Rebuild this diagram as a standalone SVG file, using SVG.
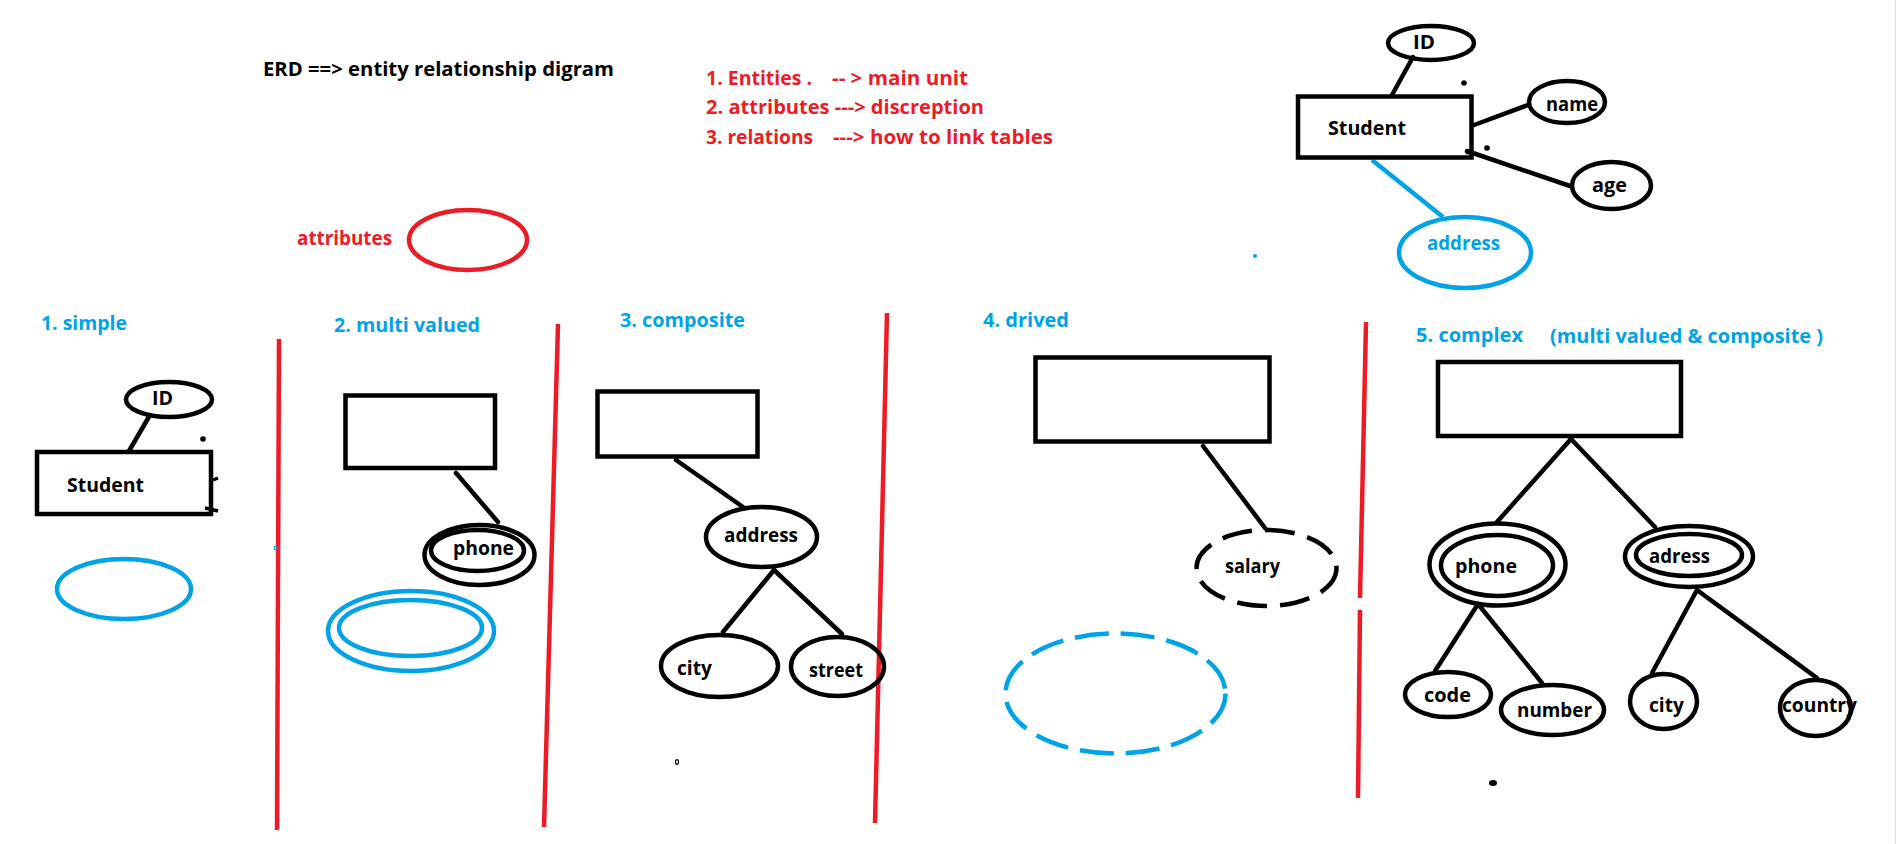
<svg xmlns="http://www.w3.org/2000/svg" width="1896" height="844" viewBox="0 0 1896 844">
<style>
text{font-family:"Open Sans","Liberation Sans",sans-serif;font-weight:700;font-size:20px;}
.k{fill:#000;}
.r{fill:#ed1c24;}
.b{fill:#00a2e8;}
.ent{fill:none;stroke:#000;stroke-width:4.5;}
.att{fill:none;stroke:#000;stroke-width:4.5;}
.batt{fill:none;stroke:#00a2e8;stroke-width:4.5;}
.ratt{fill:none;stroke:#ed1c24;stroke-width:4.5;}
.dash{stroke-dasharray:30 13;}
.bdash{stroke-dasharray:34 12;}
.ln{stroke:#000;stroke-width:4.5;fill:none;stroke-linecap:round;}
.bln{stroke:#00a2e8;stroke-width:4.5;fill:none;}
.sep{stroke:#ed1c24;stroke-width:4.5;fill:none;}
.dot{fill:#000;}
</style>
<rect x="0" y="0" width="1896" height="844" fill="#fff"/>
<line x1="1895.5" y1="0" x2="1895.5" y2="844" stroke="#dcdcdc" stroke-width="1"/>

<g id="titles">
<text class="k" x="263" y="76" textLength="351" lengthAdjust="spacingAndGlyphs">ERD ==&gt; entity relationship digram</text>
<text class="r" y="85"><tspan x="706" textLength="106" lengthAdjust="spacingAndGlyphs">1. Entities .</tspan><tspan x="832" textLength="136" lengthAdjust="spacingAndGlyphs">-- &gt; main unit</tspan></text>
<text class="r" x="706" y="114" textLength="278" lengthAdjust="spacingAndGlyphs">2. attributes ---&gt; discreption</text>
<text class="r" y="144"><tspan x="706" textLength="107" lengthAdjust="spacingAndGlyphs">3. relations</tspan><tspan x="833" textLength="220" lengthAdjust="spacingAndGlyphs">---&gt; how to link tables</tspan></text>
<text class="r" x="297" y="245" textLength="95" lengthAdjust="spacingAndGlyphs">attributes</text>
<text class="b" x="41" y="330" textLength="86" lengthAdjust="spacingAndGlyphs">1. simple</text>
<text class="b" x="334" y="332" textLength="146" lengthAdjust="spacingAndGlyphs">2. multi valued</text>
<text class="b" x="620" y="327" textLength="125" lengthAdjust="spacingAndGlyphs">3. composite</text>
<text class="b" x="983" y="327" textLength="86" lengthAdjust="spacingAndGlyphs">4. drived</text>
<text class="b" x="1416" y="342" textLength="107" lengthAdjust="spacingAndGlyphs">5. complex</text>
<text class="b" x="1550" y="343" textLength="273" lengthAdjust="spacingAndGlyphs">(multi valued &amp; composite )</text>
</g>

<g id="separators">
<line class="sep" x1="279" y1="339" x2="277" y2="830"/>
<line class="sep" x1="558" y1="324" x2="544" y2="827"/>
<line class="sep" x1="887" y1="313" x2="875" y2="823"/>
<line class="sep" x1="1366" y1="322" x2="1360" y2="598"/>
<line class="sep" x1="1360" y1="610" x2="1358" y2="798"/>
</g>

<g id="connectors">
<line class="ln" x1="1413" y1="57" x2="1392" y2="95"/>
<line class="ln" x1="1474" y1="125" x2="1528" y2="105"/>
<line class="ln" x1="1467" y1="151" x2="1570" y2="186"/>
<line class="bln" x1="1372" y1="160" x2="1443" y2="217"/>
<line class="ln" x1="150" y1="415" x2="129" y2="451"/>
<line class="ln" x1="456" y1="473" x2="498" y2="522"/>
<line class="ln" x1="676" y1="460" x2="743" y2="507"/>
<line class="ln" x1="774" y1="570" x2="723" y2="632"/>
<line class="ln" x1="774" y1="570" x2="842" y2="634"/>
<line class="ln" x1="1203" y1="446" x2="1265" y2="528"/>
<line class="ln" x1="1571" y1="439" x2="1497" y2="522"/>
<line class="ln" x1="1571" y1="439" x2="1655" y2="527"/>
<line class="ln" x1="1478" y1="604" x2="1435" y2="671"/>
<line class="ln" x1="1478" y1="604" x2="1542" y2="683"/>
<line class="ln" x1="1697" y1="590" x2="1652" y2="673"/>
<line class="ln" x1="1697" y1="590" x2="1817" y2="678"/>
</g>

<g id="legend-attribute">
<ellipse class="ratt" cx="468" cy="240" rx="59" ry="30"/>
</g>

<g id="top-student">
<rect class="ent" x="1298" y="96.5" width="173.5" height="61"/>
<text class="k" x="1328" y="135" textLength="78" lengthAdjust="spacingAndGlyphs">Student</text>
</g>
<g id="top-id">
<ellipse class="att" cx="1431" cy="43" rx="43" ry="17"/>
<text class="k" x="1413" y="49" textLength="22" lengthAdjust="spacingAndGlyphs">ID</text>
</g>
<g id="top-name">
<ellipse class="att" cx="1567" cy="102" rx="38" ry="21"/>
<text class="k" x="1546" y="111" textLength="52" lengthAdjust="spacingAndGlyphs">name</text>
</g>
<g id="top-age">
<ellipse class="att" cx="1611.5" cy="185.5" rx="39.5" ry="23.5"/>
<text class="k" x="1592" y="192" textLength="35" lengthAdjust="spacingAndGlyphs">age</text>
</g>
<g id="top-address">
<ellipse class="batt" cx="1465" cy="252.5" rx="66" ry="35.5"/>
<text class="b" x="1427" y="250" textLength="73" lengthAdjust="spacingAndGlyphs">address</text>
</g>

<g id="s1-student">
<rect class="ent" x="37" y="452" width="174" height="62"/>
<text class="k" x="67" y="492" textLength="77" lengthAdjust="spacingAndGlyphs">Student</text>
</g>
<g id="s1-id">
<ellipse class="att" cx="169" cy="399.5" rx="43" ry="17.5"/>
<text class="k" x="152" y="405" textLength="21" lengthAdjust="spacingAndGlyphs">ID</text>
</g>
<g id="s1-simple">
<ellipse class="batt" cx="124" cy="589" rx="67" ry="30"/>
</g>

<g id="s2-entity">
<rect class="ent" x="345.5" y="395.5" width="149.5" height="72.5"/>
</g>
<g id="s2-phone">
<ellipse class="att" cx="479.5" cy="555" rx="55" ry="30"/>
<ellipse class="att" cx="477.5" cy="550.5" rx="46.5" ry="20.5"/>
<text class="k" x="453" y="555" textLength="61" lengthAdjust="spacingAndGlyphs">phone</text>
</g>
<g id="s2-multi">
<ellipse class="batt" cx="411" cy="631" rx="83" ry="40"/>
<ellipse class="batt" cx="410.5" cy="628" rx="71.5" ry="28"/>
</g>

<g id="s3-entity">
<rect class="ent" x="597.5" y="391.5" width="160" height="65"/>
</g>
<g id="s3-address">
<ellipse class="att" cx="761.5" cy="537" rx="55.5" ry="30"/>
<text class="k" x="724" y="542" textLength="74" lengthAdjust="spacingAndGlyphs">address</text>
</g>
<g id="s3-city">
<ellipse class="att" cx="719.5" cy="666" rx="58.5" ry="31"/>
<text class="k" x="677" y="675" textLength="35" lengthAdjust="spacingAndGlyphs">city</text>
</g>
<g id="s3-street">
<ellipse class="att" cx="837.5" cy="666.5" rx="46.5" ry="29.5"/>
<text class="k" x="809" y="677" textLength="54" lengthAdjust="spacingAndGlyphs">street</text>
</g>

<g id="s4-entity">
<rect class="ent" x="1035.5" y="357.5" width="234" height="84"/>
</g>
<g id="s4-salary">
<ellipse class="att dash" cx="1266.5" cy="568" rx="70" ry="38"/>
<text class="k" x="1225" y="573" textLength="55" lengthAdjust="spacingAndGlyphs">salary</text>
</g>
<g id="s4-derived">
<ellipse class="batt bdash" cx="1115.5" cy="693.5" rx="110" ry="60"/>
</g>

<g id="s5-entity">
<rect class="ent" x="1438" y="362" width="243" height="74"/>
</g>
<g id="s5-phone">
<ellipse class="att" cx="1497.5" cy="564.5" rx="68" ry="41"/>
<ellipse class="att" cx="1497" cy="565.5" rx="56" ry="30.5"/>
<text class="k" x="1455" y="573" textLength="62" lengthAdjust="spacingAndGlyphs">phone</text>
</g>
<g id="s5-adress">
<ellipse class="att" cx="1689" cy="556.5" rx="64" ry="30.5"/>
<ellipse class="att" cx="1689" cy="555" rx="53" ry="21"/>
<text class="k" x="1649" y="563" textLength="61" lengthAdjust="spacingAndGlyphs">adress</text>
</g>
<g id="s5-code">
<ellipse class="att" cx="1448" cy="694.5" rx="43" ry="22.5"/>
<text class="k" x="1424" y="702" textLength="47" lengthAdjust="spacingAndGlyphs">code</text>
</g>
<g id="s5-number">
<ellipse class="att" cx="1552.5" cy="710" rx="51.5" ry="25"/>
<text class="k" x="1517" y="717" textLength="75" lengthAdjust="spacingAndGlyphs">number</text>
</g>
<g id="s5-city">
<ellipse class="att" cx="1663.5" cy="701.5" rx="33.5" ry="27.5"/>
<text class="k" x="1649" y="712" textLength="35" lengthAdjust="spacingAndGlyphs">city</text>
</g>
<g id="s5-country">
<ellipse class="att" cx="1815.5" cy="708" rx="35.5" ry="28"/>
<text class="k" x="1782" y="712" textLength="75" lengthAdjust="spacingAndGlyphs">country</text>
</g>

<g id="specks">
<circle class="dot" cx="1464" cy="83" r="2.8"/>
<circle class="dot" cx="1487" cy="148" r="2.8"/>
<circle class="dot" cx="1468" cy="152" r="2.5"/>
<circle class="dot" cx="203" cy="439" r="2.8"/>
<path d="M213 480 L218 478" stroke="#000" stroke-width="3.5" fill="none"/>
<path d="M205 508 L218 511" stroke="#000" stroke-width="3.5" fill="none"/>
<circle cx="276" cy="548" r="1.8" fill="none" stroke="#00a2e8" stroke-width="1.2"/>
<circle cx="1255" cy="256" r="2" fill="#00a2e8"/>
<ellipse cx="677" cy="762" rx="1.5" ry="2.3" fill="none" stroke="#000" stroke-width="1.2"/>
<ellipse class="dot" cx="1493" cy="783" rx="4" ry="3"/>
</g>
</svg>
